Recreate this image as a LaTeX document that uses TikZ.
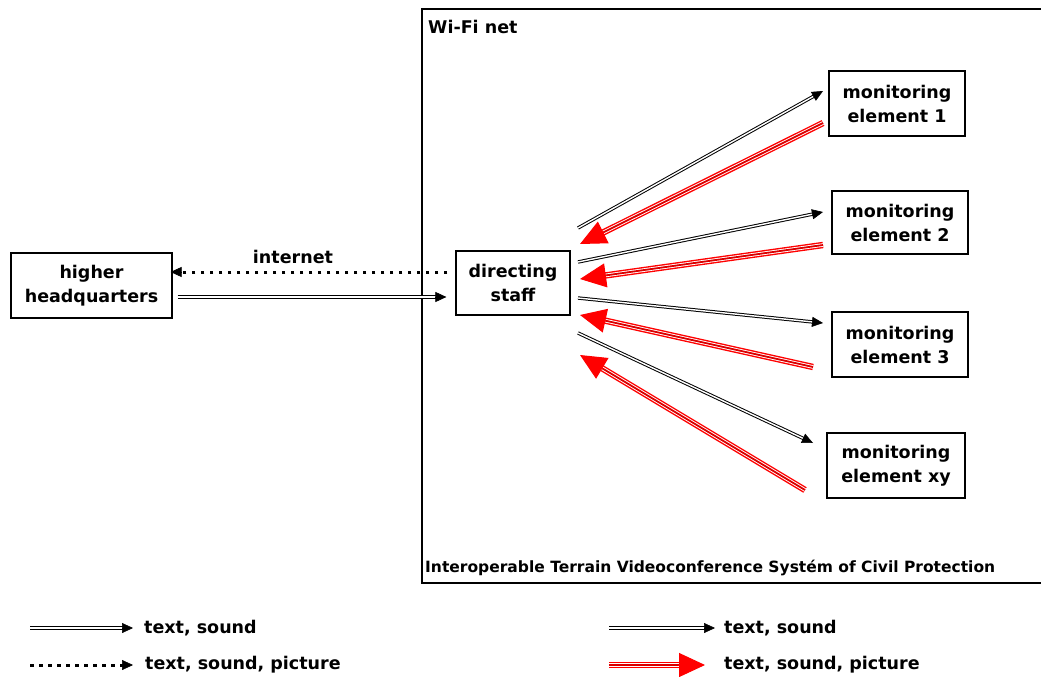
\documentclass[tikz,border=0pt]{standalone}
\usepackage{fontspec}
\usepackage{graphicx}
\setmainfont{DejaVu Sans}
\usetikzlibrary{arrows.meta,calc}
\tikzset{
  box/.style={draw=black, line width=1.2pt, fill=white, align=center, inner sep=0pt,
    font=\fontsize{17.5}{24}\selectfont\bfseries},
  lbl/.style={font=\fontsize{17.5}{20}\selectfont\bfseries, inner sep=0pt},
  blkline/.style={draw=black, line width=1pt, double=white, double distance=1.4pt},
  blktip/.style={draw=black, line width=0.6pt, -{Triangle[length=11pt,width=10pt]}},
  dotline/.style={draw=black, line width=3pt, dash pattern=on 3.5pt off 5.5pt},
  redline/.style={draw=red, line width=6.4pt,
    postaction={draw=white, line width=3.6pt},
    postaction={draw=red!85!black, line width=1.8pt}},
  redtip/.style={draw=red, line width=1pt, -{Triangle[length=26pt,width=24pt]}},
}
\newcommand\myblk[2]{%
  \draw[blkline] (#1) -- ($(#2)!10pt!(#1)$);
  \draw[blktip] ($(#2)!11pt!(#1)$) -- (#2);}
\newcommand\myred[2]{%
  \draw[redline] (#1) -- ($(#2)!20pt!(#1)$);
  \draw[redtip] ($(#2)!27pt!(#1)$) -- (#2);}
\newcommand\mydot[2]{%
  \draw[dotline] (#1) -- ($(#2)!10pt!(#1)$);
  \draw[blktip] ($(#2)!11pt!(#1)$) -- (#2);}
\begin{document}
\begin{tikzpicture}[x=1pt,y=-1pt]
\useasboundingbox (0,0) rectangle (1041,677);
\fill[white] (0,0) rectangle (1041,677);
% Wi-Fi net frame
\draw[line width=1.2pt] (1045,9) -- (422,9) -- (422,583) -- (1045,583);
\node[lbl, anchor=west] (wifi) at (428,27) {Wi-Fi net};
\node[anchor=west, inner sep=0pt] (itvs) at (425,568)
  {\resizebox{570pt}{!}{\fontsize{15}{18}\selectfont\bfseries Interoperable Terrain Videoconference Systém of Civil Protection}};
% nodes
\node[box, minimum width=161pt, minimum height=65pt] (hq) at (91.5,285.5) {higher\\headquarters};
\node[box, minimum width=114pt, minimum height=64pt] (ds) at (513,283) {directing\\staff};
\node[box, minimum width=136pt, minimum height=65pt] (m1) at (897,103.5) {monitoring\\element 1};
\node[box, minimum width=136pt, minimum height=63pt] (m2) at (900,222.5) {monitoring\\element 2};
\node[box, minimum width=136pt, minimum height=65pt] (m3) at (900,344.5) {monitoring\\element 3};
\node[box, minimum width=138pt, minimum height=65pt] (mx) at (896,465.5) {monitoring\\element xy};
% internet link
\coordinate (ids) at ($(ds.west)+(-8,-11)$);
\coordinate (ihq) at ($(hq.east)+(-2,-13.5)$);
\coordinate (hqo) at ($(hq.east)+(5,11.5)$);
\coordinate (dsi) at ($(ds.west)+(-9,14)$);
\mydot{ids}{ihq}
\myblk{hqo}{dsi}
\node[lbl] (inet) at (293,257) {internet};
% fan coordinates
\coordinate (b1s) at (578,228); \coordinate (b1e) at (823,91);
\coordinate (r1s) at (823,123); \coordinate (r1e) at (580,244);
\coordinate (b2s) at (578,262); \coordinate (b2e) at (823,212);
\coordinate (r2s) at (823,245); \coordinate (r2e) at (580,279);
\coordinate (b3s) at (578,298); \coordinate (b3e) at (823,323);
\coordinate (r3s) at (813,367); \coordinate (r3e) at (580,315);
\coordinate (b4s) at (578,333); \coordinate (b4e) at (813,443);
\coordinate (r4s) at (805,490); \coordinate (r4e) at (580,355);
\myblk{b1s}{b1e}
\myred{r1s}{r1e}
\myblk{b2s}{b2e}
\myred{r2s}{r2e}
\myblk{b3s}{b3e}
\myred{r3s}{r3e}
\myblk{b4s}{b4e}
\myred{r4s}{r4e}
% legend
\coordinate (l1s) at (30,628); \coordinate (l1e) at (133,628);
\coordinate (l2s) at (30,665); \coordinate (l2e) at (133,665);
\coordinate (l3s) at (609,628); \coordinate (l3e) at (715,628);
\coordinate (l4s) at (609,665); \coordinate (l4e) at (705,665);
\myblk{l1s}{l1e}
\mydot{l2s}{l2e}
\myblk{l3s}{l3e}
\myred{l4s}{l4e}
\node[lbl, anchor=west] (t1) at (144,628) {text, sound};
\node[lbl, anchor=west] (t2) at (145,665) {text, sound, picture};
\node[lbl, anchor=west] (t3) at (724,628) {text, sound};
\node[lbl, anchor=west] (t4) at (724,665) {text, sound, picture};
\end{tikzpicture}
\end{document}
